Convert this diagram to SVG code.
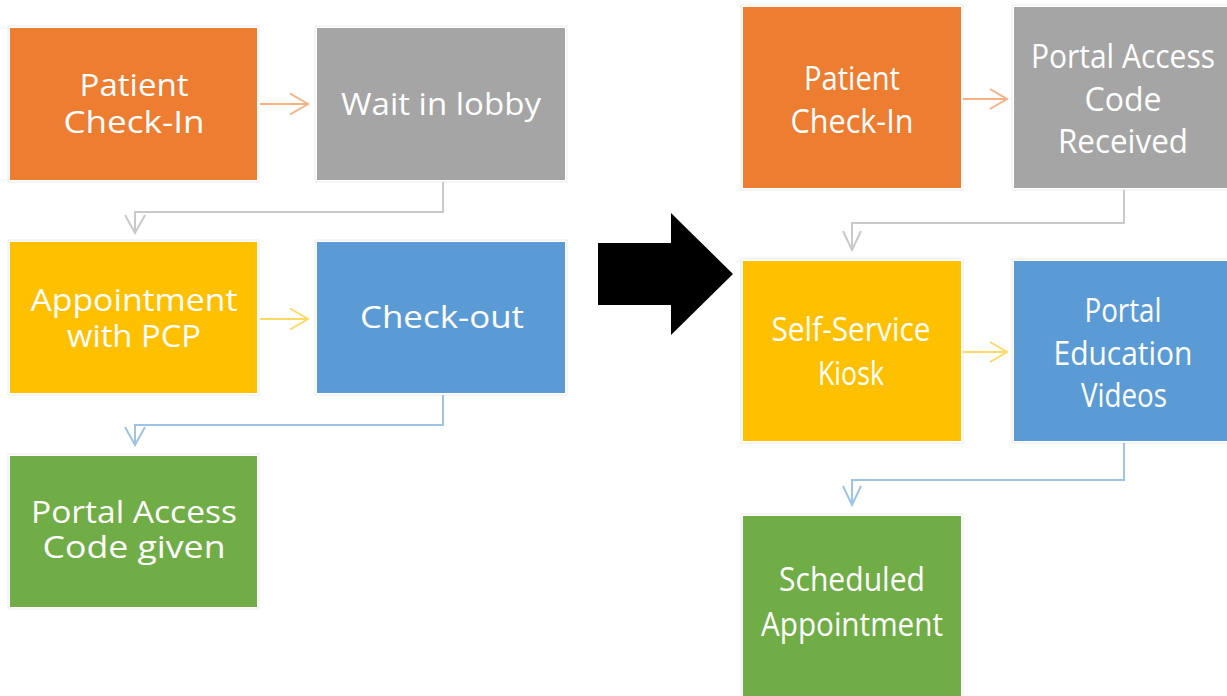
<svg xmlns="http://www.w3.org/2000/svg" width="1227" height="696" viewBox="0 0 1227 696">
  <style>
    .frame { fill: none; stroke: #ececec; stroke-width: 1; }
    .orange { fill: #ED7D31; }
    .gray { fill: #A5A5A5; }
    .yellow { fill: #FFC000; }
    .blue { fill: #5B9BD5; }
    .green { fill: #70AD47; }
    .lbl { font-family: "Open Sans", "Liberation Sans", sans-serif; fill: #ffffff; text-anchor: middle; }
    .l { font-size: 31px; }
    .r { font-size: 33px; }
    .conn { fill: none; stroke-width: 2; stroke-linejoin: miter; }
    .c-orange { stroke: #F4B183; }
    .c-yellow { stroke: #FFD966; }
    .c-gray { stroke: #C9C9C9; }
    .c-blue { stroke: #9DC3E6; }
  </style>
  <rect width="1227" height="696" fill="#ffffff"/>

  <!-- current process -->
  <g id="checkin-left">
    <rect class="frame" x="8" y="26" width="251" height="156"/>
    <rect class="orange" x="10" y="28" width="247" height="152"/>
    <text class="lbl l" x="134" y="96" textLength="109" lengthAdjust="spacingAndGlyphs">Patient</text>
    <text class="lbl l" x="134" y="133" textLength="141" lengthAdjust="spacingAndGlyphs">Check-In</text>
  </g>
  <g id="wait-lobby">
    <rect class="frame" x="315" y="26" width="252" height="156"/>
    <rect class="gray" x="317" y="28" width="248" height="152"/>
    <text class="lbl l" x="441" y="115" textLength="200" lengthAdjust="spacingAndGlyphs">Wait in lobby</text>
  </g>
  <g id="appointment-pcp">
    <rect class="frame" x="8" y="240" width="251" height="155"/>
    <rect class="yellow" x="10" y="242" width="247" height="151"/>
    <text class="lbl l" x="134" y="311" textLength="207" lengthAdjust="spacingAndGlyphs">Appointment</text>
    <text class="lbl l" x="134" y="347" textLength="134" lengthAdjust="spacingAndGlyphs">with PCP</text>
  </g>
  <g id="checkout">
    <rect class="frame" x="315" y="240" width="252" height="155"/>
    <rect class="blue" x="317" y="242" width="248" height="151"/>
    <text class="lbl l" x="442" y="328" textLength="164" lengthAdjust="spacingAndGlyphs">Check-out</text>
  </g>
  <g id="code-given">
    <rect class="frame" x="8" y="454" width="251" height="155"/>
    <rect class="green" x="10" y="456" width="247" height="151"/>
    <text class="lbl l" x="134" y="523" textLength="206" lengthAdjust="spacingAndGlyphs">Portal Access</text>
    <text class="lbl l" x="134" y="558" textLength="183" lengthAdjust="spacingAndGlyphs">Code given</text>
  </g>

  <!-- transition arrow -->
  <g id="transition">
    <polygon points="598,243 671,243 671,213 733,274 671,335 671,305 598,305" fill="#000000"/>
  </g>

  <!-- improved process -->
  <g id="checkin-right">
    <rect class="frame" x="741" y="5" width="222" height="185"/>
    <rect class="orange" x="743" y="7" width="218" height="181"/>
    <text class="lbl r" x="852" y="90" textLength="96" lengthAdjust="spacingAndGlyphs">Patient</text>
    <text class="lbl r" x="852" y="133" textLength="123" lengthAdjust="spacingAndGlyphs">Check-In</text>
  </g>
  <g id="code-received">
    <rect class="frame" x="1012" y="5" width="220" height="185"/>
    <rect class="gray" x="1014" y="7" width="216" height="181"/>
    <text class="lbl r" x="1123" y="68" textLength="184" lengthAdjust="spacingAndGlyphs">Portal Access</text>
    <text class="lbl r" x="1123" y="111" textLength="77" lengthAdjust="spacingAndGlyphs">Code</text>
    <text class="lbl r" x="1123" y="153" textLength="130" lengthAdjust="spacingAndGlyphs">Received</text>
  </g>
  <g id="kiosk">
    <rect class="frame" x="741" y="259" width="222" height="184"/>
    <rect class="yellow" x="743" y="261" width="218" height="180"/>
    <text class="lbl r" x="851" y="341" textLength="159" lengthAdjust="spacingAndGlyphs">Self-Service</text>
    <text class="lbl r" x="851" y="385" textLength="66" lengthAdjust="spacingAndGlyphs">Kiosk</text>
  </g>
  <g id="education-videos">
    <rect class="frame" x="1012" y="259" width="220" height="184"/>
    <rect class="blue" x="1014" y="261" width="216" height="180"/>
    <text class="lbl r" x="1123" y="322" textLength="77" lengthAdjust="spacingAndGlyphs">Portal</text>
    <text class="lbl r" x="1123" y="365" textLength="139" lengthAdjust="spacingAndGlyphs">Education</text>
    <text class="lbl r" x="1124" y="407" textLength="86" lengthAdjust="spacingAndGlyphs">Videos</text>
  </g>
  <g id="scheduled">
    <rect class="frame" x="741" y="514" width="222" height="184"/>
    <rect class="green" x="743" y="516" width="218" height="180"/>
    <text class="lbl r" x="852" y="591" textLength="146" lengthAdjust="spacingAndGlyphs">Scheduled</text>
    <text class="lbl r" x="852" y="636" textLength="182" lengthAdjust="spacingAndGlyphs">Appointment</text>
  </g>

  <g id="connectors">
    <!-- left column -->
    <path class="conn c-orange" d="M260,104 H308 M290,93.5 L308,104 L290,114.5"/>
    <path class="conn c-gray" d="M443,182 V212 H135 V233 M125,215 L135,233 L145,215"/>
    <path class="conn c-yellow" d="M260,319 H308 M290,308.5 L308,319 L290,329.5"/>
    <path class="conn c-blue" d="M443,395 V425 H135 V445 M125,427 L135,445 L145,427"/>
    <!-- right column -->
    <path class="conn c-orange" d="M963,99 H1007 M990,89 L1007,99 L990,109"/>
    <path class="conn c-gray" d="M1124,190 V223 H852 V250 M843,231 L852,250 L861,231"/>
    <path class="conn c-yellow" d="M963,352 H1007 M990,342 L1007,352 L990,362"/>
    <path class="conn c-blue" d="M1124,443 V480 H852 V505 M843,486 L852,505 L861,486"/>
  </g>
</svg>
